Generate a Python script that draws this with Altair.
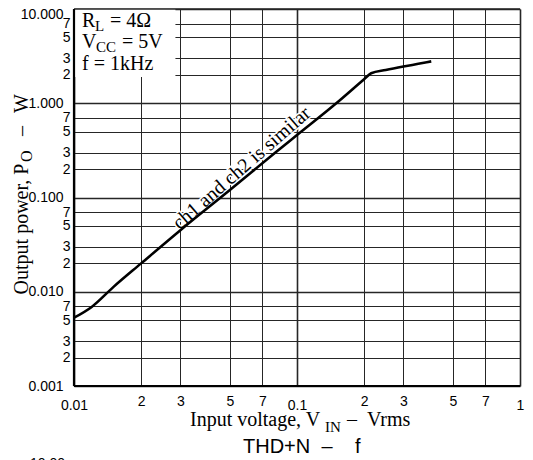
import json
import altair as alt
import pandas as pd

# ---- data ----
vin = [0.01, 0.012, 0.015, 0.02, 0.03, 0.05, 0.08, 0.1, 0.15, 0.2, 0.215, 0.25, 0.3, 0.35, 0.4]
po = [0.0053, 0.0069, 0.0112, 0.020, 0.045, 0.12, 0.30, 0.46, 1.0, 1.8, 2.08, 2.25, 2.45, 2.62, 2.78]

x_ticks = [0.01, 0.02, 0.03, 0.05, 0.07, 0.1, 0.2, 0.3, 0.5, 0.7, 1]
x_tick_labels = ["0.01", "2", "3", "5", "7", "0.1", "2", "3", "5", "7", "1"]
y_ticks = [0.001, 0.002, 0.003, 0.005, 0.007, 0.01, 0.02, 0.03, 0.05, 0.07,
           0.1, 0.2, 0.3, 0.5, 0.7, 1, 2, 3, 5, 7, 10]
y_tick_labels = ["0.001", "2", "3", "5", "7", "0.010", "2", "3", "5", "7",
                 "0.100", "2", "3", "5", "7", "1.000", "2", "3", "5", "7", "10.000"]

x_domain = [0.01, 1]
y_domain = [0.001, 10]

# legend box extent (data units)
box_x = [0.01, 0.0285]
box_y = [1.9, 10]

note_text = "ch1 and ch2 is similar"
note_x = 0.0565
note_y = 0.205

SERIF = "Liberation Serif"
SANS = "Liberation Sans"

dec_test = "abs(log(datum.value)/LN10 - round(log(datum.value)/LN10)) < 1e-6"


def label_expr(ticks, labels):
    return f"{json.dumps(labels)}[indexof({json.dumps(ticks)}, datum.value)]"


x_axis = alt.Axis(
    values=x_ticks, labelExpr=label_expr(x_ticks, x_tick_labels), title=None,
    grid=True, ticks=False, tickSize=0, domain=False,
    labelFont=SANS, labelFontSize=14, labelColor="black", labelBaseline="top",
    labelAlign="center", labelFlush=False, labelOverlap=False,
    labelPadding={"condition": {"test": dec_test, "value": 12}, "value": 8},
    gridColor="#262626",
    gridWidth={"condition": {"test": dec_test, "value": 1.6}, "value": 1},
)
y_axis = alt.Axis(
    values=y_ticks, labelExpr=label_expr(y_ticks, y_tick_labels), title=None,
    grid=True, ticks=False, tickSize=0, domain=False,
    labelFont=SANS, labelFontSize=14, labelColor="black", labelBaseline="middle",
    labelAlign="right", labelFlush=False, labelOverlap=False,
    labelPadding={"condition": {"test": dec_test, "value": 11}, "value": 4},
    labelOffset={"condition": {"test": "datum.value >= 10", "value": 5}, "value": 0},
    gridColor="#262626",
    gridWidth={"condition": {"test": dec_test, "value": 1.6}, "value": 1},
)

xs = alt.Scale(type="log", domain=x_domain)
ys = alt.Scale(type="log", domain=y_domain)


def X(field="x"):
    return alt.X(f"{field}:Q", scale=xs, axis=x_axis)


def Y(field="y"):
    return alt.Y(f"{field}:Q", scale=ys, axis=y_axis)


curve_df = pd.DataFrame({"x": vin, "y": po})

box = alt.Chart(pd.DataFrame({"x": [box_x[0]], "x2": [box_x[1]], "y": [box_y[0]], "y2": [box_y[1]]})).mark_rect(
    fill="white", stroke=None
).encode(x=X(), x2="x2:Q", y=Y(), y2="y2:Q")

line = alt.Chart(curve_df).mark_line(color="black", strokeWidth=2.6, interpolate="monotone").encode(
    x=X(), y=Y()
)

note_df = pd.DataFrame({"x": [note_x], "y": [note_y], "t": [note_text]})
note_halo = alt.Chart(note_df).mark_text(
    font=SERIF, fontSize=20, angle=319, align="center", baseline="middle",
    stroke="white", strokeWidth=3, fill="white"
).encode(x=X(), y=Y(), text="t:N")
note = alt.Chart(note_df).mark_text(
    font=SERIF, fontSize=20, angle=319, align="center", baseline="middle", color="black"
).encode(x=X(), y=Y(), text="t:N")

frame_v = alt.Chart(pd.DataFrame({"x": [x_domain[0]], "y": [y_domain[0]], "y2": [y_domain[1]]})).mark_rule(
    color="black", strokeWidth=2.2
).encode(x=X(), y=Y(), y2="y2:Q")
frame_h = alt.Chart(pd.DataFrame({"x": [x_domain[0]], "x2": [x_domain[1]], "y": [y_domain[0]]})).mark_rule(
    color="black", strokeWidth=2.2
).encode(x=X(), x2="x2:Q", y=Y())
frame_t = alt.Chart(pd.DataFrame({"x": [x_domain[0]], "x2": [x_domain[1]], "y": [y_domain[1]]})).mark_rule(
    color="#262626", strokeWidth=1.6
).encode(x=X(), x2="x2:Q", y=Y())


def txt(text, x, y, size, font=SERIF, align="left", baseline="alphabetic", angle=0):
    return alt.Chart(pd.DataFrame({"t": [text]})).mark_text(
        font=font, fontSize=size, align=align, baseline=baseline, angle=angle, color="black"
    ).encode(x=alt.value(x), y=alt.value(y), text="t:N")


texts = [
    # legend box
    txt("R", 8, 18, 20), txt("L", 21, 22, 15), txt("= 4Ω", 36, 18, 20),
    txt("V", 8, 39, 20), txt("CC", 22, 43, 15), txt("= 5V", 48, 39, 20),
    txt("f = 1kHz", 8, 61, 20),
    # x-axis title
    txt("Input voltage, V", 116, 417, 20), txt("IN", 251, 423, 15),
    txt("–", 278, 417, 20, align="center"), txt("Vrms", 293, 417, 20),
    # y-axis title (rotated)
    txt("Output power, P", -46, 220, 20, align="center", angle=270),
    txt("O", -42, 153, 16, angle=270),
    txt("–", -46, 122, 20, align="center", angle=270),
    txt("W", -46, 104, 20, angle=270),
    # next chart's title (below)
    txt("THD+N", 169, 444, 20, font=SANS), txt("–", 253, 444, 20, font=SANS, align="center"),
    txt("f", 281, 444, 20, font=SANS),
    txt("10.00", -9, 459, 14, font=SANS, align="right"),
]

chart = alt.layer(box, note_halo, line, note, frame_t, frame_v, frame_h, *texts).properties(
    width=446, height=377,
    autosize=alt.AutoSizeParams(type="none"),
    padding={"left": 66, "top": 1, "right": 5, "bottom": 74},
).configure_view(stroke=None).configure(background="white")

chart.save("out.html", embed_options={"renderer": "svg", "actions": False})
